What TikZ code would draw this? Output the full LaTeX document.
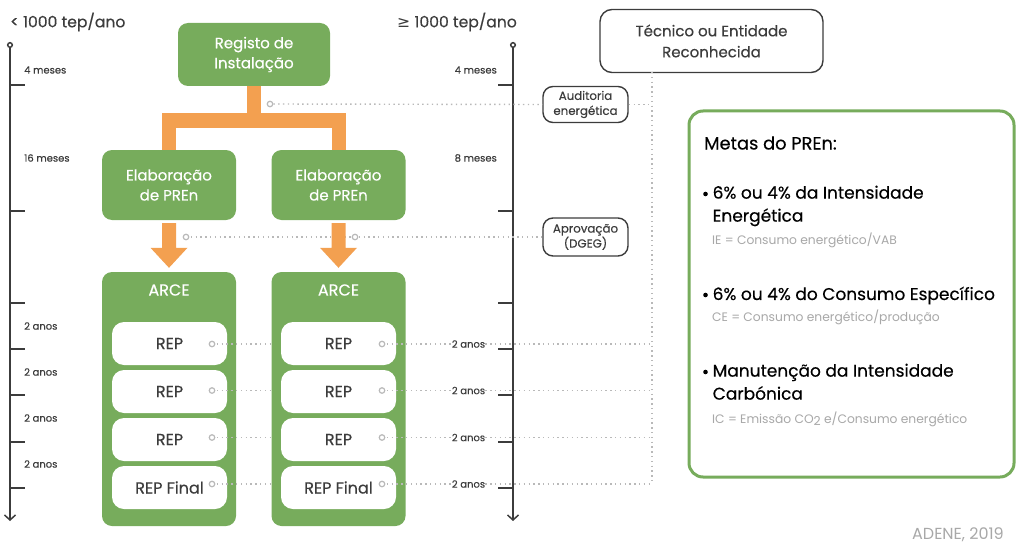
\documentclass[tikz,border=0pt]{standalone}
\usepackage{fontspec}
\setmainfont{Poppins}
\newfontfamily\med{Poppins}[FakeBold=0.4]
\newfontfamily\symfont{DejaVu Sans}
\usetikzlibrary{arrows.meta,calc}
\definecolor{pgreen}{RGB}{119,172,92}
\definecolor{porange}{RGB}{243,160,80}
\definecolor{dark}{RGB}{60,60,60}
\definecolor{dotgrey}{RGB}{185,185,185}
\definecolor{lightt}{RGB}{168,168,168}
\begin{document}
\begin{tikzpicture}[x=1pt,y=-1pt,
  gbox/.style={fill=pgreen, rounded corners=10pt, text=white, align=center,
    font=\med\fontsize{15}{20}\selectfont, inner sep=0pt},
  wbox/.style={fill=white, rounded corners=12pt, text=dark, inner sep=0pt,
    minimum width=115pt, minimum height=43pt, font=\med\fontsize{16}{17}\selectfont},
  obox/.style={draw=dark, line width=1.4pt, fill=white, align=center, text=dark, inner sep=0pt},
  dots/.style={draw=dotgrey, line width=1.4pt, dash pattern=on 1.4pt off 3.4pt},
  dotc/.style={circle, draw=dotgrey, fill=white, line width=1.2pt, minimum size=5.5pt, inner sep=0pt},
  tl/.style={draw=dark, line width=1.5pt},
  oline/.style={draw=porange, line width=14pt},
  small/.style={text=dark, font=\med\fontsize{10}{11}\selectfont, inner sep=0pt},
  head/.style={text=dark, font=\med\fontsize{15.6}{16}\selectfont, inner sep=0pt, anchor=west},
  item/.style={text=black, font=\med\fontsize{17}{23}\selectfont, inner sep=0pt, align=left, anchor=north west},
  sub/.style={text=lightt, font=\fontsize{12.3}{13}\selectfont, inner sep=0pt, anchor=west},
  bul/.style={circle, fill=black, minimum size=4.6pt, inner sep=0pt}
]
\useasboundingbox (0,0) rectangle (1024,559);

% headers
\node[head] (hl) at (10,22) {< 1000 tep/ano};
\node[head] (hr) at (397,22) {{\symfont ≥} 1000 tep/ano};

% timelines
\foreach \tx/\dir in {10/1,513/-1}{
  \draw[tl, -{Straight Barb[length=5pt,width=11pt]}] (\tx,47.5) -- (\tx,521);
  \draw[tl, fill=white] (\tx,45) circle (2.3pt);
  \foreach \ty in {85,211,303,349,395,442,488}
    \draw[tl] (\tx,\ty) -- ++(15*\dir,0);
}
\node[small, anchor=west] (l1) at (24,70) {4 meses};
\node[small, anchor=west] (l2) at (24,158) {16 meses};
\foreach \y in {326,372,418,464} \node[small, anchor=west] at (24,\y) {2 anos};
\node[small, anchor=east] (r1) at (497,70) {4 meses};
\node[small, anchor=east] (r2) at (497,158) {8 meses};

% main boxes
\node[gbox, minimum width=152pt, minimum height=63pt] (reg) at (254,54.5) {Registo de\\Instalação};
\node[gbox, minimum width=134pt, minimum height=70pt] (elabL) at (169,185) {Elaboração\\de PREn};
\node[gbox, minimum width=134pt, minimum height=70pt] (elabR) at (338.5,185) {Elaboração\\de PREn};
\node[gbox, minimum width=134pt, minimum height=254pt] (arceL) at (169,399) {};
\node[gbox, minimum width=134pt, minimum height=254pt] (arceR) at (338.5,399) {};
\node[gbox, font=\med\fontsize{16}{18}\selectfont] (arceLt) at (169,290) {ARCE};
\node[gbox, font=\med\fontsize{16}{18}\selectfont] (arceRt) at (338.5,290) {ARCE};

% right column boxes
\node[obox, rounded corners=12pt, minimum width=223pt, minimum height=63pt,
  font=\med\fontsize{15}{21}\selectfont] (tec) at (711.5,41) {Técnico ou Entidade\\Reconhecida};
\node[obox, rounded corners=10pt, minimum width=85pt, minimum height=36pt,
  font=\med\fontsize{11.8}{15}\selectfont] (aud) at (585.5,104.5) {Auditoria\\energética};
\node[obox, rounded corners=10pt, minimum width=85pt, minimum height=38pt,
  font=\med\fontsize{11.8}{15}\selectfont] (apr) at (585.5,237) {Aprovação\\(DGEG)};
\coordinate (tvtop) at (652,72);
\coordinate (tvbot) at (652,484);
\draw[dots] (tvtop) -- (tvbot);

% dotted links (top)
\node[dotc] (ca) at (270,104) {};
\draw[dots] (ca) -- (aud.west);
\draw[dots] (aud.east) -- (tvtop |- aud.east);
\coordinate (cb0) at (186,237);
\draw[dots] (cb0) -- (apr.west);

% orange connectors
\draw[oline] (reg.south) -- (254,121);
\draw[oline] (elabL.north) -- (169,120.5) -- (338.5,120.5) -- (elabR.north);
\foreach \n in {L,R}{
  \fill[porange] ($(elab\n.south)+(-7,3)$) -- ($(arce\n.north)+(-7,-24)$)
    -- ($(arce\n.north)+(-18.5,-24)$) -- ($(arce\n.north)+(0,-4)$)
    -- ($(arce\n.north)+(18.5,-24)$) -- ($(arce\n.north)+(7,-24)$)
    -- ($(elab\n.south)+(7,3)$) -- cycle;
}
\node[dotc] (cb) at (cb0) {};
\node[dotc] (cc) at (355,237) {};

% REP boxes and links
\foreach \i/\by/\dy/\t in {1/343.5/344/REP,2/391.5/390.5/REP,3/439.5/437.5/REP,4/487.5/484/REP Final}{
  \node[wbox] (repL\i) at (169.5,\by) {\t};
  \node[wbox] (repR\i) at (338.5,\by) {\t};
  \node[small] (yr\i) at (468.5,\dy) {2 anos};
  \coordinate (cLp\i) at (212,\dy);
  \coordinate (cRp\i) at (382,\dy);
  \draw[dots] (cLp\i) -- (arceR.west |- cLp\i);
  \draw[dots] (cRp\i) -- (yr\i.west);
  \draw[dots] (yr\i.east) -- (tvtop |- yr\i.east);
  \node[dotc] (cL\i) at (cLp\i) {};
  \node[dotc] (cR\i) at (cRp\i) {};
}

% metas box
\node[draw=pgreen, line width=3pt, rounded corners=14pt, fill=white,
  minimum width=325pt, minimum height=366pt, inner sep=0pt] (metas) at (851.5,294) {};
\node[text=black, font=\med\fontsize{17.8}{18}\selectfont, anchor=west, inner sep=0pt] (mt) at (704,143) {Metas do PREn:};
\node[bul] (b1) at (705.5,194) {};
\node[item] (i1) at (712.5,185.5) {6\% ou 4\% da Intensidade\\Energética};
\node[sub] (s1) at (712,240) {IE = Consumo energético/VAB};
\node[bul] (b2) at (705.5,295) {};
\node[item] (i2) at (712.5,286.5) {6\% ou 4\% do Consumo Específico};
\node[sub] (s2) at (712,317) {CE = Consumo energético/produção};
\node[bul] (b3) at (705.5,372) {};
\node[item] (i3) at (712.5,363.5) {Manutenção da Intensidade\\Carbónica};
\node[sub] (s3) at (712,419) {IC = Emissão CO\raisebox{-2pt}{2} e/Consumo energético};

\node[text=lightt, font=\fontsize{16}{16}\selectfont, anchor=east, inner sep=0pt] (adene) at (1004,535) {ADENE, 2019};
\end{tikzpicture}
\end{document}
